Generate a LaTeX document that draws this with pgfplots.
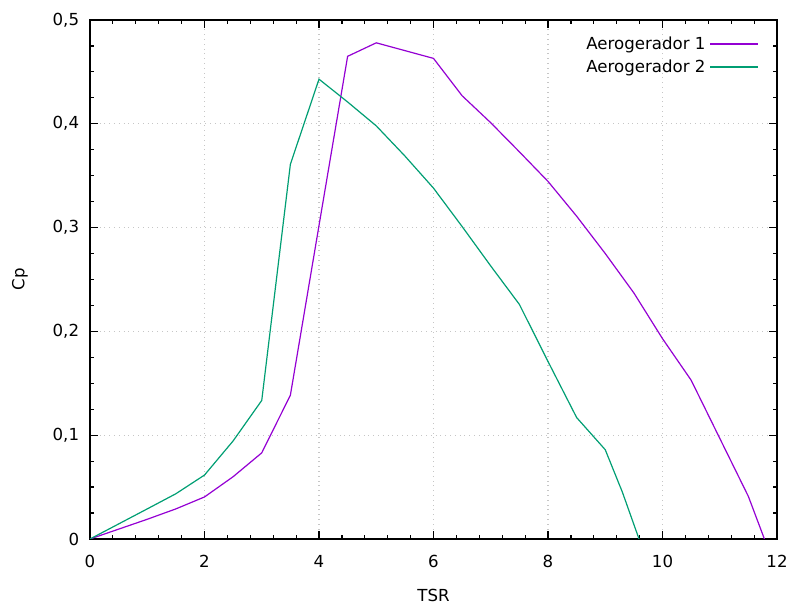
\documentclass[border=0pt]{standalone}
\usepackage{fontspec}
\setmainfont{DejaVu Sans}
\usepackage{pgfplots}
\pgfplotsset{compat=1.18}
\definecolor{c1}{HTML}{9400D3}
\definecolor{c2}{HTML}{009E73}
\begin{document}
\fontsize{8.3}{10}\selectfont
\begin{tikzpicture}
\useasboundingbox (-45pt,-34.5pt) rectangle (352.5pt,269.5pt);
\begin{axis}[
  at={(0,0)}, anchor=south west,
  scale only axis, width=343.5pt, height=259.5pt,
  xmin=0, xmax=12, ymin=0, ymax=0.5,
  xtick={0,2,...,12}, ytick={0,0.1,...,0.5},
  minor x tick num=4, minor y tick num=3,
  tick align=inside, major tick length=4pt, minor tick length=2pt,
  tick style={black, line width=0.6pt},
  axis line style={black, line width=0.75pt},
  grid=major, major grid style={gray!45, dotted, line width=0.6pt},
  /pgf/number format/assume math mode=true,
  /pgf/number format/use comma,
  yticklabel style={/pgf/number format/fixed, /pgf/number format/precision=1, xshift=-2.5pt},
  xticklabel style={yshift=-5pt},
  xlabel={TSR}, ylabel={Cp},
  xlabel style={at={(axis description cs:0.5,-0.108)}, anchor=center},
  ylabel style={at={(axis description cs:-0.102,0.5)}, anchor=center},
  legend style={draw=none, fill=none, at={(axis description cs:1,1)}, anchor=north east, xshift=-6pt, yshift=-4pt, row sep=0pt, font=\fontsize{8.3}{10}\selectfont},
  legend cell align=right,
  legend plot pos=right,
  legend image code/.code={\draw[#1] (3pt,0pt) -- (27pt,0pt);},
]
\addplot[c1, line width=0.6pt] coordinates {
(0,0) (0.5,0.0095) (1,0.019) (1.5,0.029) (2,0.0405) (2.5,0.06) (3,0.083) (3.5,0.1385)
(4,0.302) (4.5,0.465) (5,0.478) (6,0.463) (6.5,0.427) (7,0.401) (7.5,0.373) (8,0.3445)
(8.5,0.311) (9,0.275) (9.5,0.237) (10,0.193) (10.5,0.153) (11,0.097) (11.5,0.041) (11.78,0)
};
\addlegendentry{Aerogerador 1}
\addplot[c2, line width=0.6pt] coordinates {
(0,0) (0.5,0.0145) (1,0.029) (1.5,0.0436) (2,0.0616) (2.5,0.0945) (3,0.1335) (3.5,0.361)
(4,0.443) (4.5,0.421) (5,0.398) (5.5,0.369) (6,0.338) (6.5,0.301) (7,0.263) (7.5,0.226)
(8,0.171) (8.5,0.117) (9,0.086) (9.3,0.045) (9.59,0)
};
\addlegendentry{Aerogerador 2}
\end{axis}
\end{tikzpicture}
\end{document}
